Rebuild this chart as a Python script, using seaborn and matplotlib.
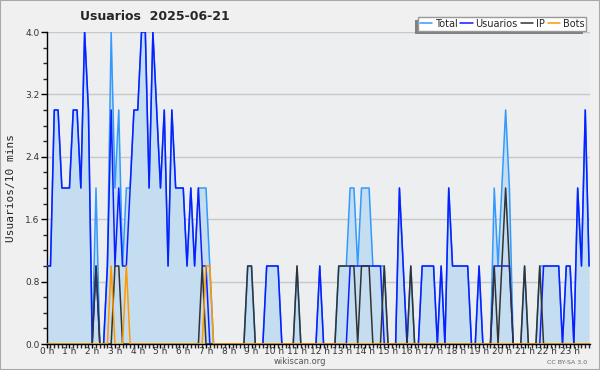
import numpy as np
import seaborn as sns
import matplotlib
matplotlib.use('Agg')
import matplotlib.pyplot as plt
from matplotlib.patches import Rectangle
from matplotlib.ticker import MultipleLocator

# one value every 10 minutes (144 slots over the day)
total = [1, 1, 3, 3, 2, 2, 2, 3, 3, 2,
         4, 3, 0, 2, 0, 0, 1, 4, 2, 3,
         1, 2, 2, 3, 3, 4, 4, 2, 4, 3,
         2, 3, 1, 3, 2, 2, 2, 1, 2, 1,
         2, 2, 2, 1, 0, 0, 0, 0, 0, 0,
         0, 0, 0, 1, 1, 0, 0, 0, 1, 1,
         1, 1, 0, 0, 0, 0, 1, 0, 0, 0,
         0, 0, 1, 0, 0, 0, 0, 1, 1, 1,
         2, 2, 1, 2, 2, 2, 1, 1, 1, 1,
         0, 0, 0, 2, 1, 0, 1, 0, 0, 1,
         1, 1, 1, 0, 1, 0, 2, 1, 1, 1,
         1, 1, 0, 0, 1, 0, 0, 0, 2, 1,
         2, 3, 2, 0, 0, 0, 1, 0, 0, 0,
         1, 1, 1, 1, 1, 1, 0, 1, 1, 0,
         2, 1, 3, 1]
usuarios = [1, 1, 3, 3, 2, 2, 2, 3, 3, 2,
            4, 3, 0, 1, 0, 0, 1, 3, 1, 2,
            1, 1, 2, 3, 3, 4, 4, 2, 4, 3,
            2, 3, 1, 3, 2, 2, 2, 1, 2, 1,
            2, 1, 1, 0, 0, 0, 0, 0, 0, 0,
            0, 0, 0, 0, 0, 0, 0, 0, 1, 1,
            1, 1, 0, 0, 0, 0, 0, 0, 0, 0,
            0, 0, 1, 0, 0, 0, 0, 0, 0, 0,
            1, 1, 1, 1, 1, 1, 1, 1, 1, 0,
            0, 0, 0, 2, 1, 0, 0, 0, 0, 1,
            1, 1, 1, 0, 1, 0, 2, 1, 1, 1,
            1, 1, 0, 0, 1, 0, 0, 0, 1, 1,
            1, 1, 1, 0, 0, 0, 0, 0, 0, 0,
            0, 1, 1, 1, 1, 1, 0, 1, 1, 0,
            2, 1, 3, 1]
ip = [0, 0, 0, 0, 0, 0, 0, 0, 0, 0,
      0, 0, 0, 1, 0, 0, 0, 0, 1, 1,
      0, 0, 0, 0, 0, 0, 0, 0, 0, 0,
      0, 0, 0, 0, 0, 0, 0, 0, 0, 0,
      0, 1, 0, 0, 0, 0, 0, 0, 0, 0,
      0, 0, 0, 1, 1, 0, 0, 0, 0, 0,
      0, 0, 0, 0, 0, 0, 1, 0, 0, 0,
      0, 0, 0, 0, 0, 0, 0, 1, 1, 1,
      1, 1, 0, 1, 1, 1, 0, 0, 0, 1,
      0, 0, 0, 0, 0, 0, 1, 0, 0, 0,
      0, 0, 0, 0, 0, 0, 0, 0, 0, 0,
      0, 0, 0, 0, 0, 0, 0, 0, 1, 0,
      1, 2, 1, 0, 0, 0, 1, 0, 0, 0,
      1, 0, 0, 0, 0, 0, 0, 0, 0, 0,
      0, 0, 0, 0]
bots = [0, 0, 0, 0, 0, 0, 0, 0, 0, 0,
        0, 0, 0, 0, 0, 0, 0, 1, 0, 0,
        0, 1, 0, 0, 0, 0, 0, 0, 0, 0,
        0, 0, 0, 0, 0, 0, 0, 0, 0, 0,
        0, 0, 1, 1, 0, 0, 0, 0, 0, 0,
        0, 0, 0, 0, 0, 0, 0, 0, 0, 0,
        0, 0, 0, 0, 0, 0, 0, 0, 0, 0,
        0, 0, 0, 0, 0, 0, 0, 0, 0, 0,
        0, 0, 0, 0, 0, 0, 0, 0, 0, 0,
        0, 0, 0, 0, 0, 0, 0, 0, 0, 0,
        0, 0, 0, 0, 0, 0, 0, 0, 0, 0,
        0, 0, 0, 0, 0, 0, 0, 0, 0, 0,
        0, 0, 0, 0, 0, 0, 0, 0, 0, 0,
        0, 0, 0, 0, 0, 0, 0, 0, 0, 0,
        0, 0, 0, 0]
hour_labels = ['%d h' % h for h in range(24)]
slots = np.arange(len(total))

sns.set_style('white')
plt.rcParams['font.family'] = ['DejaVu Sans']

fig = plt.figure(figsize=(6, 3.7), dpi=100, facecolor='#f0f0f0')
ax = fig.add_axes([46.7 / 600, 26 / 370, 543.5 / 600, 312 / 370])
ax.set_facecolor('#eceef0')

# filled area under the total
ax.fill_between(slots, total, color='#c5ddf0', lw=0, zorder=1)
sns.lineplot(x=slots, y=total, ax=ax, color='#3399ff', lw=1.1, label='Total', zorder=3)
sns.lineplot(x=slots, y=usuarios, ax=ax, color='#0a1eff', lw=1.1, label='Usuarios', zorder=4)
sns.lineplot(x=slots, y=ip, ax=ax, color='#333333', lw=1.1, label='IP', zorder=5)
sns.lineplot(x=slots, y=bots, ax=ax, color='#ff9900', lw=1.1, label='Bots', zorder=6)

ax.set_xlim(0, 143.3)
ax.set_ylim(0, 4.0)
ax.set_yticks([0.0, 0.8, 1.6, 2.4, 3.2, 4.0])
ax.set_yticklabels(['0.0', '0.8', '1.6', '2.4', '3.2', '4.0'])
ax.yaxis.set_minor_locator(MultipleLocator(0.2))
ax.set_xticks(np.arange(0, 144, 6))
ax.set_xticklabels(hour_labels)
ax.xaxis.set_minor_locator(MultipleLocator(1))
ax.grid(axis='y', color='#c8c8c8', lw=1)
ax.set_axisbelow(True)
for s in ['top', 'right']:
    ax.spines[s].set_visible(False)
for s in ['left', 'bottom']:
    ax.spines[s].set_color('black')
    ax.spines[s].set_linewidth(1)
ax.tick_params(which='major', direction='out', length=4, width=1, labelsize=6.5,
               colors='black', labelcolor='#333333', pad=1, left=True, bottom=True)
ax.tick_params(which='minor', direction='out', length=3, width=1, left=True, bottom=True)
ax.tick_params(axis='x', which='major', pad=-0.5, length=3)
ax.set_xlabel('')
ax.set_ylabel('Usuarios/10 mins', family='DejaVu Sans Mono', size=8)
ax.yaxis.set_label_coords(-0.056, 0.5)
ax.get_legend().remove()

fig.text(80 / 600, 1 - 17 / 370, 'Usuarios  2025-06-21', weight='bold', size=9, va='center')
fig.text(300 / 600, 1 - 362 / 370, 'wikiscan.org', size=6, color='#555555', ha='center', va='center')
fig.text(0.978, 1 - 362 / 370, 'CC BY-SA 3.0', size=4.5, color='#666666', ha='right', va='center')

handles, labels = ax.get_legend_handles_labels()
leg = fig.legend(handles, labels, loc='upper right', bbox_to_anchor=(0.985, 0.968),
                 ncol=4, fontsize=7, handlelength=1.3, handletextpad=0.25,
                 columnspacing=0.3, borderpad=0.2, fancybox=False, framealpha=1,
                 facecolor='white', edgecolor='#999999')
leg.set_zorder(5)
fig.canvas.draw()
bb = leg.get_window_extent()
fig.add_artist(Rectangle((bb.x0 - 3, bb.y0 - 3), bb.width, bb.height, transform=None,
                         facecolor='#808080', edgecolor='none', zorder=4))

# thin border round the picture
fig.add_artist(Rectangle((0, 0), 1, 1, transform=fig.transFigure, fill=False,
                         edgecolor='#a8a8a8', lw=1.5))

fig.savefig('out.png', dpi=100, facecolor=fig.get_facecolor())
